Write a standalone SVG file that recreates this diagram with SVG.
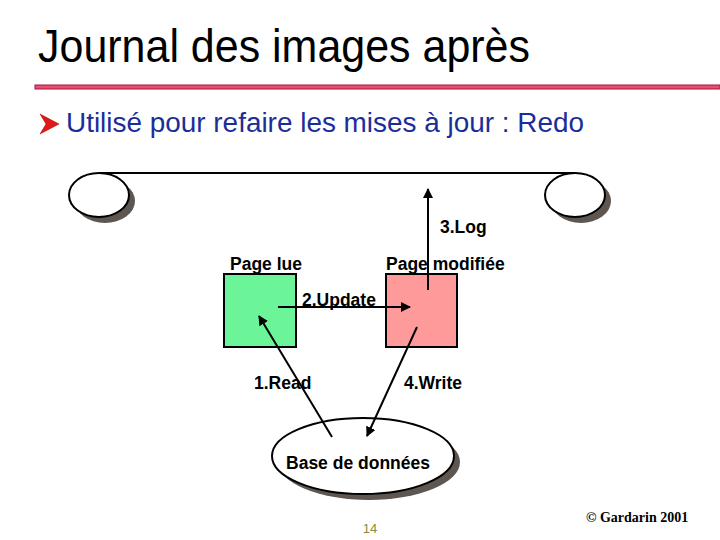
<svg xmlns="http://www.w3.org/2000/svg" width="720" height="540" viewBox="0 0 720 540">
<style>
.lbl{font-family:"Liberation Sans",Arial,sans-serif;font-weight:bold;font-size:17.5px;fill:#000}
.conn{stroke:#000;stroke-width:2;fill:none}
.shadow{fill:#5e5650}
</style>
<defs>
<marker id="ah" viewBox="0 0 10 10" refX="9" refY="5" markerWidth="5" markerHeight="5" orient="auto" markerUnits="strokeWidth">
<path d="M0,0 L10,5 L0,10 z" fill="#000"/>
</marker>
</defs>
<rect width="720" height="540" fill="#fff"/>
<text x="38" y="62" font-family="Liberation Sans,Arial,sans-serif" font-size="46" textLength="492" lengthAdjust="spacingAndGlyphs" fill="#000">Journal des images après</text>
<rect x="35" y="85" width="685" height="4" fill="#e8506e" stroke="#a01545" stroke-width="1"/>
<polygon points="40,114 59,124 40,134 46,124" fill="#e01818" stroke="#a00000" stroke-width="0.5"/>
<text x="66" y="132" font-family="Liberation Sans,Arial,sans-serif" font-size="27" textLength="518" lengthAdjust="spacingAndGlyphs" fill="#1a2e9a">Utilisé pour refaire les mises à jour : Redo</text>

<g id="tape-left">
<ellipse cx="105" cy="201" rx="30" ry="22" class="shadow"/>
<ellipse cx="99" cy="195" rx="30" ry="22" fill="#fff" stroke="#000" stroke-width="2"/>
</g>
<g id="tape-right">
<ellipse cx="581" cy="201" rx="30" ry="22" class="shadow"/>
<ellipse cx="575" cy="195" rx="30" ry="22" fill="#fff" stroke="#000" stroke-width="2"/>
</g>

<g id="page-lue">
<rect x="224" y="274" width="72" height="73" fill="#6cf598" stroke="#000" stroke-width="2"/>
<text x="230" y="270" class="lbl">Page lue</text>
</g>
<g id="page-modifiee">
<rect x="386" y="274" width="71" height="73" fill="#ff9a9a" stroke="#000" stroke-width="2"/>
<text x="386" y="270" class="lbl">Page modifiée</text>
</g>
<g id="base">
<ellipse cx="369" cy="462" rx="91" ry="38" class="shadow"/>
<ellipse cx="363" cy="456" rx="91" ry="38" fill="#fff" stroke="#000" stroke-width="2"/>
<text x="358" y="469" class="lbl" text-anchor="middle">Base de données</text>
</g>

<g id="connectors">
<line x1="100" y1="173" x2="575" y2="173" class="conn"/>
<line x1="428" y1="290" x2="428" y2="189" class="conn" marker-end="url(#ah)"/>
<line x1="278" y1="307" x2="410" y2="307" class="conn" marker-end="url(#ah)"/>
<line x1="332" y1="437" x2="259" y2="316" class="conn" marker-end="url(#ah)"/>
<line x1="417" y1="327" x2="367" y2="436" class="conn" marker-end="url(#ah)"/>
<text x="440" y="233" class="lbl">3.Log</text>
<text x="302" y="306" class="lbl">2.Update</text>
<text x="254" y="389" class="lbl">1.Read</text>
<text x="404" y="389" class="lbl">4.Write</text>
</g>

<text x="370" y="533" font-family="Liberation Sans,Arial,sans-serif" font-size="13" fill="#8a8a3a" text-anchor="middle">14</text>
<text x="586" y="522" font-family="Liberation Serif,Times New Roman,serif" font-weight="bold" font-size="14" fill="#000">© Gardarin 2001</text>
</svg>
